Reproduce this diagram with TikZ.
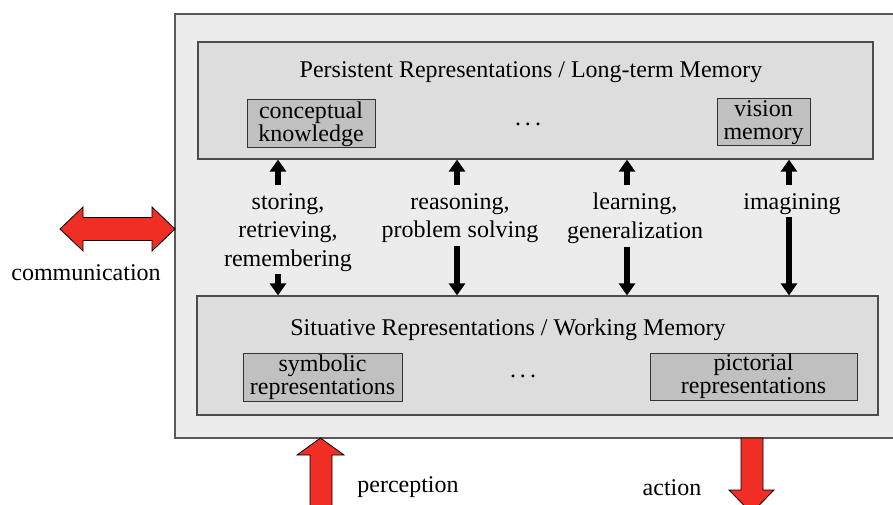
\documentclass[tikz,border=0pt]{standalone}
\usepackage{fontspec}
\setmainfont{Liberation Serif}
\usepackage{xcolor}
\usetikzlibrary{arrows.meta}
\usetikzlibrary{positioning}

\definecolor{outergray}{RGB}{236,236,236}
\definecolor{panelgray}{RGB}{221,221,221}
\definecolor{itemgray}{RGB}{192,192,192}
\definecolor{arrowred}{RGB}{241,46,36}

\tikzset{
  panel/.style={draw=black!70,line width=1.2pt,fill=panelgray,minimum width=#1},
  item/.style={draw=black!80,line width=1pt,fill=itemgray,inner sep=0pt,align=center,
    font=\fontsize{24}{23}\selectfont},
  lab/.style={align=center,inner xsep=2pt,inner ysep=3pt,font=\fontsize{24}{28.5}\selectfont},
  vflow/.style={line width=6.5pt,-{Triangle[width=16pt,length=12pt]}},
  bigarrow/.style={fill=arrowred,draw=black,line width=0.8pt,line join=miter}
}

\begin{document}
\begin{tikzpicture}[x=1pt,y=-1pt]
        \useasboundingbox (0,0) rectangle (893,505);
        \clip (0,0) rectangle (893,505);
        % whole system
        \node[draw=black!65,line width=1.3pt,fill=outergray,minimum width=730pt,minimum height=424pt] (sys) at (540,226) {};
        % long-term memory
        \node[panel=675pt,minimum height=117pt] (ltm) at (535.5,100.5) {};
        \node[lab,anchor=base] (ltmtitle) at (531,78) {Persistent Representations / Long-term Memory};
        \node[item,minimum width=128pt,minimum height=48pt] (concept) at (311,124) {conceptual\\knowledge};
        \node[lab,anchor=base] (ltmdots) at (528,126) {.\,.\,.};
        \node[item,minimum width=93pt,minimum height=47pt] (vision) at (763.5,122.5) {vision\\memory};
        % working memory
        \node[panel=681pt,minimum height=119pt] (wm) at (537.5,355.5) {};
        \node[lab,anchor=base] (wmtitle) at (508,335) {Situative Representations / Working Memory};
        \node[item,minimum width=159pt,minimum height=48pt] (symbolic) at (322.5,377) {symbolic\\representations};
        \node[lab,anchor=base] (wmdots) at (523,377) {.\,.\,.};
        \node[item,minimum width=207pt,minimum height=47pt] (pictorial) at (753.5,376.5) {pictorial\\representations};
        % processes between the memories
        \node[lab,anchor=north] (store) at (288,190) {storing,\\retrieving,\\remembering};
        \node[lab,anchor=north] (reason) at (460,190) {reasoning,\\problem solving};
        \node[lab,anchor=north] (learn) at (635,190) {learning,\\generalization};
        \node[lab,anchor=north] (imagine) at (792,190) {imagining};
        \draw[vflow] ([xshift=-10pt,yshift=5pt]store.north) -- ([xshift=-10pt]store.north |- ltm.south);
        \draw[vflow] ([xshift=-10pt]store.south) -- ([xshift=-10pt]store.south |- wm.north);
        \draw[vflow] ([xshift=-3pt,yshift=5pt]reason.north) -- ([xshift=-3pt]reason.north |- ltm.south);
        \draw[vflow] ([xshift=-3pt]reason.south) -- ([xshift=-3pt]reason.south |- wm.north);
        \draw[vflow] ([xshift=-8pt,yshift=5pt]learn.north) -- ([xshift=-8pt]learn.north |- ltm.south);
        \draw[vflow] ([xshift=-8pt]learn.south) -- ([xshift=-8pt]learn.south |- wm.north);
        \draw[vflow] ([xshift=-3pt,yshift=5pt]imagine.north) -- ([xshift=-3pt]imagine.north |- ltm.south);
        \draw[vflow] ([xshift=-3pt]imagine.south) -- ([xshift=-3pt]imagine.south |- wm.north);
        % exchange with the outside
        \draw[bigarrow] (60,229) -- (83,207) -- (83,217.5) -- (152,217.5) -- (152,207) -- (175,229)
          -- (152,251) -- (152,240.5) -- (83,240.5) -- (83,251) -- cycle;
        \node[lab,anchor=base] (comm) at (86,280) {communication};
        \draw[bigarrow] (320.5,438) -- (344,455) -- (332,455) -- (332,512) -- (310,512) -- (310,455) -- (297,455) -- cycle;
        \node[lab,anchor=base] (percept) at (408,492) {perception};
        \draw[bigarrow] (741,438) -- (763,438) -- (763,490) -- (774,490) -- (751.5,513) -- (729,490) -- (741,490) -- cycle;
        \node[lab,anchor=base] (act) at (672,495) {action};
    \end{tikzpicture}
\end{document}
